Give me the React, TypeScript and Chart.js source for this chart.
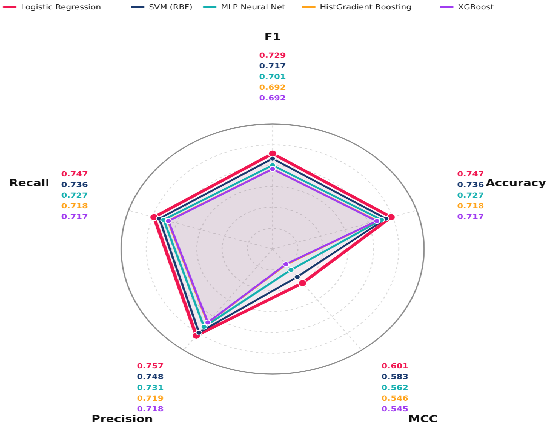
import React, { useEffect, useRef } from "react";
import { Chart, registerables } from "chart.js";

Chart.register(...registerables);

const categories = ["F1", "Accuracy", "MCC", "Precision", "Recall"];
const modelNames = ["Logistic Regression", "SVM (RBF)", "MLP Neural Net", "HistGradient Boosting", "XGBoost"];
const modelColors = ["#F01650", "#1A3A6E", "#14AFAF", "#FFA31A", "#A03CF0"];
const logisticValues = [0.729, 0.747, 0.601, 0.757, 0.747];
const svmValues = [0.717, 0.736, 0.583, 0.748, 0.736];
const mlpValues = [0.701, 0.727, 0.562, 0.731, 0.727];
const histGbValues = [0.692, 0.718, 0.546, 0.719, 0.718];
const xgbValues = [0.692, 0.717, 0.545, 0.718, 0.717];
const seriesValues = [logisticValues, svmValues, mlpValues, histGbValues, xgbValues];
const scaleMin = 0.5;
const scaleMax = 0.8;
const scaleStep = 0.05;

const CANVAS_W = 454;
const CANVAS_H = 428;
const PAGE_W = 550;

function hexToRgba(hex: string, a: number) {
  const n = parseInt(hex.slice(1), 16);
  return `rgba(${(n >> 16) & 255},${(n >> 8) & 255},${n & 255},${a})`;
}

const legendXs = [2.5, 108.1, 167.6, 249.3, 363.2];

const overlayPlugin = {
  id: "overlayLabels",
  afterDraw(chart: any) {
    const scale = chart.scales.r;
    const ctx = chart.ctx as CanvasRenderingContext2D;
    const R = scale.drawingArea;
    ctx.save();
    ctx.textAlign = "center";
    ctx.textBaseline = "middle";
    categories.forEach((cat, i) => {
      const t = scale.getPointPosition(i, R * 1.69);
      ctx.font = 'bold 9.8px "DejaVu Sans"';
      ctx.fillStyle = "#111";
      ctx.fillText(cat, t.x, t.y);
      const b = scale.getPointPosition(i, R * 1.375);
      ctx.font = 'bold 7px "DejaVu Sans"';
      seriesValues.forEach((vals, k) => {
        ctx.fillStyle = modelColors[k];
        ctx.fillText(vals[i].toFixed(3), b.x, b.y + (k - 2) * 10.7);
      });
    });
    // legend
    ctx.textAlign = "left";
    ctx.font = '6.9px "DejaVu Sans"';
    modelNames.forEach((name, k) => {
      const x = legendXs[k];
      const y = 7;
      ctx.strokeStyle = modelColors[k];
      ctx.lineWidth = 1.8;
      ctx.beginPath();
      ctx.moveTo(x, y);
      ctx.lineTo(x + 11, y);
      ctx.stroke();
      ctx.fillStyle = "#222";
      ctx.fillText(name, x + 14.8, y + 0.5);
    });
    ctx.restore();
  },
};

export default function App() {
  const ref = useRef<HTMLCanvasElement | null>(null);
  useEffect(() => {
    if (!ref.current) return;
    const n = modelNames.length;
    const chart = new Chart(ref.current, {
      type: "radar",
      data: {
        labels: categories,
        datasets: seriesValues.map((vals, k) => ({
          label: modelNames[k],
          data: vals,
          borderColor: modelColors[k],
          backgroundColor: hexToRgba(modelColors[k], 0.05),
          fill: true,
          borderWidth: k === 0 ? 2.8 : 1.8,
          pointRadius: k === 0 ? 3.4 : 2.4,
          pointBackgroundColor: modelColors[k],
          pointBorderColor: "#ffffff",
          pointBorderWidth: 0.7,
          order: n - 1 - k,
        })),
      },
      options: {
        animation: false,
        responsive: false,
        devicePixelRatio: 3,
        events: [],
        layout: { padding: { left: 100, right: 103, top: 124, bottom: 53 } },
        plugins: {
          legend: { display: false },
          tooltip: { enabled: false },
          title: { display: false },
        },
        scales: {
          r: {
            min: scaleMin,
            max: scaleMax,
            ticks: { display: false, stepSize: scaleStep },
            pointLabels: { display: false },
            grid: {
              circular: true,
              color: (c: any) => (c.tick && c.tick.value >= scaleMax - 1e-6 ? "#8c8c8c" : "#d8d8d8"),
              lineWidth: (c: any) => (c.tick && c.tick.value >= scaleMax - 1e-6 ? 1.1 : 0.8),
            },
            border: {
              dash: (c: any) => (c.tick && c.tick.value >= scaleMax - 1e-6 ? [] : [2, 2.5]),
            },
            angleLines: { color: "#d8d8d8", lineWidth: 0.8, borderDash: [2, 2.5] },
          },
        },
      },
      plugins: [overlayPlugin],
    });
    return () => chart.destroy();
  }, []);
  return (
    <div
      style={{
        position: "absolute",
        left: 0,
        top: 0,
        width: CANVAS_W,
        height: CANVAS_H,
        transform: `scale(${PAGE_W / CANVAS_W}, 1)`,
        transformOrigin: "0 0",
        background: "#fff",
      }}
    >
      <canvas ref={ref} width={CANVAS_W} height={CANVAS_H} style={{ width: CANVAS_W, height: CANVAS_H }} />
    </div>
  );
}
